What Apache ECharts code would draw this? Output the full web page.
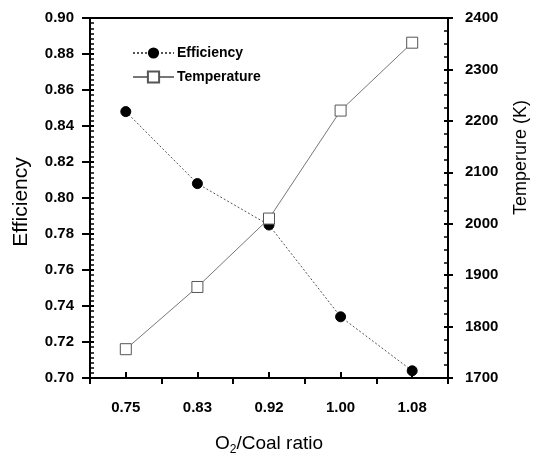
<!DOCTYPE html>
<html><head><meta charset="utf-8">
<script src="https://cdn.jsdelivr.net/npm/echarts@6/dist/echarts.min.js"></script>
<style>html,body{margin:0;padding:0;background:#fff}#c{width:542px;height:455px}</style>
</head><body><div id="c"></div>
<script>
var categories = ['0.75', '0.83', '0.92', '1.00', '1.08'];
var efficiency = [0.848, 0.808, 0.785, 0.734, 0.704];
var temperature = [1756, 1877, 2010, 2220, 2352];
var effTicks = {min: 0.70, max: 0.90, interval: 0.02};
var tempTicks = {min: 1700, max: 2400, interval: 100};

var FONT = '"Liberation Sans", Arial, sans-serif';
var chart = echarts.init(document.getElementById('c'), null, {renderer: 'canvas'});
var labelStyle = {fontFamily: FONT, fontWeight: 'bold', fontSize: 15, color: '#000'};
chart.setOption({
  animation: false,
  backgroundColor: '#fff',
  grid: {left: 90, right: 94, top: 18, bottom: 77, show: true, borderColor: '#000', borderWidth: 2,
    backgroundColor: 'transparent', containLabel: false, outerBoundsMode: 'none'},
  legend: {
    orient: 'vertical', left: 127, top: 41, itemWidth: 41, itemHeight: 14, itemGap: 10,
    textStyle: {fontFamily: FONT, fontWeight: 'bold', fontSize: 14, color: '#000', padding: [0,0,0,-2]},
    data: ['Efficiency', 'Temperature']
  },
  xAxis: [{
    type: 'category', data: categories, position: 'bottom',
    axisLine: {lineStyle: {color: '#000', width: 2}},
    axisTick: {show: true, inside: false, length: 6, lineStyle: {color: '#000', width: 2}},
    axisLabel: Object.assign({margin: 22}, labelStyle),
    name: '{a|O}{s|2}{a|/Coal ratio}', nameLocation: 'middle', nameGap: 54,
    nameTextStyle: {rich: {
      a: {fontFamily: FONT, fontSize: 19, color: '#000', lineHeight: 24},
      s: {fontFamily: FONT, fontSize: 12, color: '#000', lineHeight: 12, verticalAlign: 'bottom'}
    }}
  }, {
    type: 'category', data: categories, position: 'bottom', gridIndex: 0,
    axisLine: {show: false},
    axisTick: {show: true, inside: true, alignWithLabel: true, length: 6, lineStyle: {color: '#000', width: 2}},
    axisLabel: {show: false}
  }],
  yAxis: [{
    type: 'value', position: 'left', min: effTicks.min, max: effTicks.max, interval: effTicks.interval,
    axisLine: {show: true, lineStyle: {color: '#000', width: 2}},
    axisTick: {show: true, inside: false, length: 8, lineStyle: {color: '#000', width: 2}},
    axisLabel: Object.assign({margin: 16, formatter: function(v){return v.toFixed(2);}}, labelStyle),
    splitLine: {show: false},
    name: 'Efficiency', nameLocation: 'middle', nameGap: 58, nameRotate: 90,
    nameTextStyle: {fontFamily: FONT, fontSize: 21, color: '#000', padding: [0, 8, 0, 0]}
  }, {
    type: 'value', position: 'right', min: tempTicks.min, max: tempTicks.max, interval: tempTicks.interval,
    axisLine: {show: true, lineStyle: {color: '#000', width: 2}},
    axisTick: {show: true, inside: false, length: 5, lineStyle: {color: '#000', width: 2}},
    axisLabel: Object.assign({margin: 17, formatter: function(v){return String(v);}}, labelStyle),
    splitLine: {show: false}
  }, {
    type: 'value', position: 'left', min: effTicks.min, max: effTicks.max, interval: effTicks.interval,
    axisLine: {show: false},
    axisTick: {show: true, inside: true, length: 4, lineStyle: {color: '#000', width: 2}},
    minorTick: {show: true, splitNumber: 7, length: 4, lineStyle: {color: '#000', width: 1.5}},
    axisLabel: {show: false}, splitLine: {show: false}
  }, {
    type: 'value', position: 'right', min: tempTicks.min, max: tempTicks.max, interval: tempTicks.interval,
    axisLine: {show: false},
    axisTick: {show: true, inside: true, length: 4, lineStyle: {color: '#000', width: 2}},
    minorTick: {show: true, splitNumber: 4, length: 4, lineStyle: {color: '#000', width: 1.5}},
    axisLabel: {show: false}, splitLine: {show: false}
  }],
  graphic: [{
    type: 'text', left: 512, top: 100, rotation: Math.PI / 2,
    style: {text: 'Temperure (K)', font: '18px ' + FONT, fill: '#000'}
  }],
  series: [{
    name: 'Efficiency', type: 'line', xAxisIndex: 0, yAxisIndex: 0, data: efficiency,
    symbol: 'circle', symbolSize: 10,
    itemStyle: {color: '#000', borderColor: '#000'},
    lineStyle: {color: '#555', width: 1, type: [2, 2]},
    z: 3
  }, {
    name: 'Temperature', type: 'line', xAxisIndex: 0, yAxisIndex: 1, data: temperature,
    symbol: 'rect', symbolSize: 11, showAllSymbol: true,
    itemStyle: {color: '#fff', borderColor: '#555', borderWidth: 1},
    lineStyle: {color: '#777', width: 1},
    z: 4
  }]
});
</script></body></html>
